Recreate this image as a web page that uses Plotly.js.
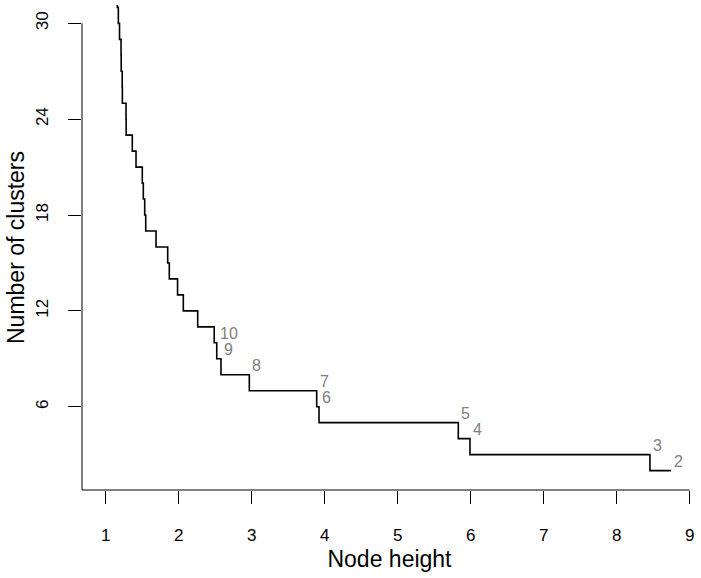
<!DOCTYPE html>
<html>
<head>
<meta charset="utf-8">
<script src="https://cdn.plot.ly/plotly-3.0.1.min.js"></script>
<style>html,body{margin:0;padding:0;background:#fff;}#chart{width:701px;height:578px;}</style>
</head>
<body>
<div id="chart"></div>
<script>
// Number of clusters and the node height at which it drops to the next count
var clusters = [32,31,30,29,28,27,26,25,24,23,22,21,20,19,18,17,16,15,14,13,12,11,10,9,8,7,6,5,4,3,2];
var heights  = [1.159,1.173,1.189,1.210,1.212,1.226,1.228,1.278,1.280,1.364,1.415,1.501,1.515,1.534,1.548,
                1.689,1.849,1.871,1.984,2.063,2.260,2.486,2.521,2.579,2.967,3.890,3.922,5.830,5.990,8.455,8.743];
var labelledClusters = [10,9,8,7,6,5,4,3,2];
var xTicks = [1,2,3,4,5,6,7,8,9];
var yTicks = [6,12,18,24,30];

var xRange = [0.675, 9.1];
var yRange = [0.784, 31.15];
var FONT = 'Liberation Sans, Arial, Helvetica, sans-serif';

var annotations = labelledClusters.map(function(k){
  var i = clusters.indexOf(k);
  return {x: heights[i], y: k, xref:'x', yref:'y', text: String(k), showarrow:false,
          xanchor:'left', yanchor:'middle', xshift: 1, yshift: 9,
          font:{family:FONT, size:16, color:'#808080'}};
});

var yTopPaper = (yTicks[yTicks.length-1] - yRange[0])/(yRange[1]-yRange[0]);
var xEndPaper = (xTicks[xTicks.length-1] - xRange[0])/(xRange[1]-xRange[0]);

var trace = {
  x: heights, y: clusters, type:'scatter', mode:'lines',
  line:{shape:'vh', color:'#000000', width:1.6},
  hoverinfo:'x+y', showlegend:false
};

var layout = {
  width:701, height:578,
  margin:{l:82, r:4, t:5, b:88, pad:0},
  paper_bgcolor:'#ffffff', plot_bgcolor:'#ffffff',
  font:{family:FONT, size:17, color:'#000000'},
  showlegend:false,
  xaxis:{
    range:xRange, tickvals:xTicks, ticktext:xTicks.map(String),
    showgrid:false, zeroline:false, showline:false,
    ticks:'outside', ticklen:13, tickwidth:1, tickcolor:'#000',
    ticklabelstandoff:17,
    tickfont:{family:FONT, size:17, color:'#000'},
    title:{text:'Node height', font:{family:FONT, size:23, color:'#000'}, standoff:6}
  },
  yaxis:{
    range:yRange, tickvals:yTicks, ticktext:yTicks.map(String),
    showgrid:false, zeroline:false, showline:false,
    ticks:'outside', ticklen:13, tickwidth:1, tickcolor:'#000',
    tickangle:-90, ticklabelstandoff:13,
    tickfont:{family:FONT, size:17, color:'#000'},
    title:{text:'Number of clusters', font:{family:FONT, size:23, color:'#000'}, standoff:2}
  },
  shapes:[
    {type:'line', xref:'paper', yref:'paper', x0:0, x1:0, y0:0, y1:yTopPaper, line:{color:'#000', width:1}},
    {type:'line', xref:'paper', yref:'paper', x0:0, x1:xEndPaper, y0:0, y1:0, line:{color:'#000', width:1}}
  ],
  annotations:annotations
};

Plotly.newPlot('chart', [trace], layout, {displayModeBar:false, staticPlot:true});
</script>
</body>
</html>
